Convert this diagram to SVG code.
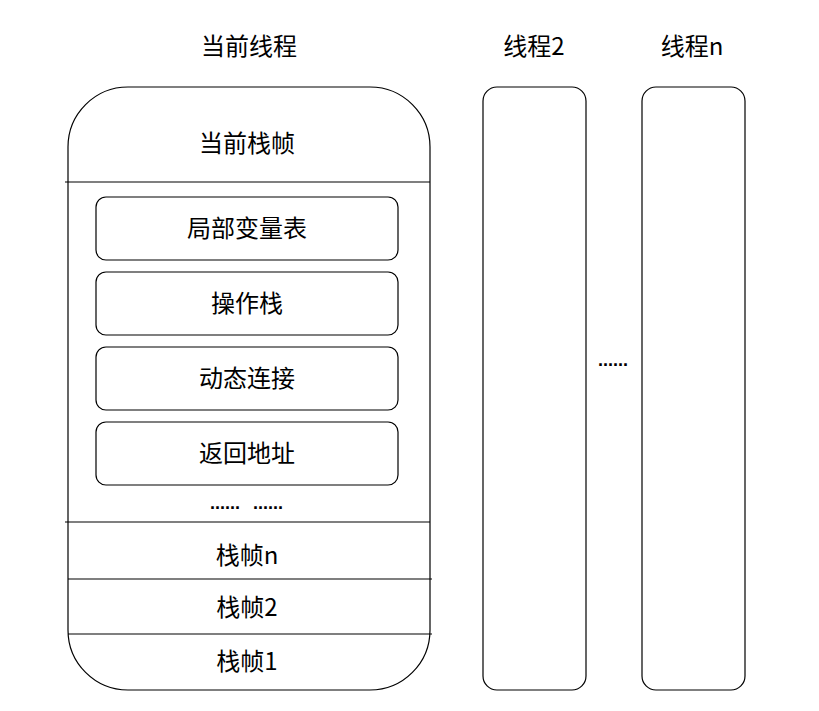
<svg xmlns="http://www.w3.org/2000/svg" width="819" height="711" viewBox="0 0 819 711">
<style>
.t{font-family:"Noto Sans CJK SC","Liberation Sans",sans-serif;font-size:24px;fill:#000;text-anchor:middle;dominant-baseline:central}
.d{font-family:"Liberation Sans",sans-serif;font-size:18px;font-weight:bold;fill:#000;text-anchor:middle}
.b{fill:#fff;stroke:#000;stroke-width:1.2}
.l{stroke:#000;stroke-width:1.2}
</style>
<rect width="819" height="711" fill="#fff"/>
<g id="current-thread">
<text class="t" x="249" y="44">当前线程</text>
<rect class="b" x="68" y="87" width="362" height="603" rx="60" ry="60"/>
<text class="t" x="247" y="141">当前栈帧</text>
</g>
<g id="dividers">
<line class="l" x1="65" y1="182" x2="430" y2="182"/>
<line class="l" x1="65" y1="522" x2="430" y2="522"/>
<line class="l" x1="68" y1="579" x2="432" y2="579"/>
<line class="l" x1="68" y1="634" x2="432" y2="634"/>
</g>
<g id="local-vars"><rect class="b" x="96" y="197" width="302" height="63" rx="10"/><text class="t" x="247" y="226">局部变量表</text></g>
<g id="operand-stack"><rect class="b" x="96" y="272" width="302" height="63" rx="10"/><text class="t" x="247" y="301">操作栈</text></g>
<g id="dynamic-link"><rect class="b" x="96" y="347" width="302" height="63" rx="10"/><text class="t" x="247" y="376">动态连接</text></g>
<g id="return-addr"><rect class="b" x="96" y="422" width="302" height="63" rx="10"/><text class="t" x="247" y="451">返回地址</text></g>
<g id="dots1"><text class="d" x="225" y="509">......</text><text class="d" x="268" y="509">......</text></g>
<g id="frame-n"><text class="t" x="247" y="553">栈帧n</text></g>
<g id="frame-2"><text class="t" x="247" y="605">栈帧2</text></g>
<g id="frame-1"><text class="t" x="247" y="659">栈帧1</text></g>
<g id="thread-2">
<text class="t" x="534" y="44">线程2</text>
<rect class="b" x="483" y="87" width="103" height="603" rx="14"/>
</g>
<g id="dots2"><text class="d" x="613" y="366">......</text></g>
<g id="thread-n">
<text class="t" x="692" y="44">线程n</text>
<rect class="b" x="642" y="87" width="103" height="603" rx="14"/>
</g>
</svg>
